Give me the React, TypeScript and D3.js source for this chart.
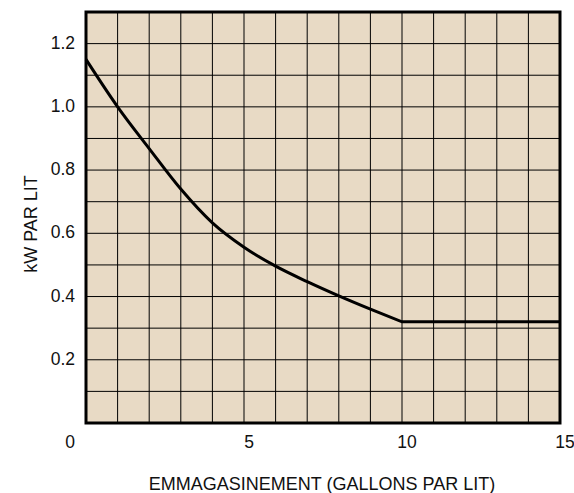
import { useEffect, useRef } from "react";
import * as d3 from "d3";

// stockage (gallons par lit) vs kW par lit
const storage = [0, 1, 2, 3, 4, 5, 6, 7, 8, 9, 10];
const kwPerBed = [1.15, 1.0, 0.868, 0.74, 0.633, 0.556, 0.496, 0.447, 0.402, 0.36, 0.32];
const flatStorage = [10, 15];
const flatKw = [0.32, 0.32];

const xTicks = [5, 10, 15];
const yTicks = [0.2, 0.4, 0.6, 0.8, 1.0, 1.2];
const xTitle = "EMMAGASINEMENT (GALLONS PAR LIT)";
const yTitle = "kW PAR LIT";

const W = 574;
const H = 493;
const margin = { top: 12, right: 14, bottom: 70, left: 86 };

export default function App() {
  const ref = useRef<SVGSVGElement>(null);

  useEffect(() => {
    const svg = d3.select(ref.current);
    svg.selectAll("*").remove();

    const innerW = W - margin.left - margin.right;
    const innerH = H - margin.top - margin.bottom;

    const x = d3.scaleLinear().domain([0, 15]).range([0, innerW]);
    const y = d3.scaleLinear().domain([0, 1.3]).range([innerH, 0]);

    const g = svg
      .append("g")
      .attr("transform", `translate(${margin.left},${margin.top})`);

    g.append("rect")
      .attr("width", innerW)
      .attr("height", innerH)
      .attr("fill", "#e8dac5");

    // grid, one line per unit / per 0.1
    const gx = d3.range(1, 15);
    const gy = d3.range(1, 13).map((d) => d / 10);
    g.selectAll(".vgrid")
      .data(gx)
      .join("line")
      .attr("class", "vgrid")
      .attr("x1", (d) => x(d))
      .attr("x2", (d) => x(d))
      .attr("y1", 0)
      .attr("y2", innerH)
      .attr("stroke", "#000")
      .attr("stroke-width", 1);
    g.selectAll(".hgrid")
      .data(gy)
      .join("line")
      .attr("class", "hgrid")
      .attr("x1", 0)
      .attr("x2", innerW)
      .attr("y1", (d) => y(d))
      .attr("y2", (d) => y(d))
      .attr("stroke", "#000")
      .attr("stroke-width", 1);

    // curve + flat tail (sharp corner at 10)
    const curve = d3
      .line<number>()
      .x((d, i) => x(storage[i]))
      .y((d) => y(d))
      .curve(d3.curveMonotoneX);
    const flat = d3
      .line<number>()
      .x((d, i) => x(flatStorage[i]))
      .y((d) => y(d));

    g.append("path")
      .attr("d", (curve(kwPerBed) || "") + (flat(flatKw) || "").replace(/^M/, "L"))
      .attr("fill", "none")
      .attr("stroke", "#000")
      .attr("stroke-width", 3)
      .attr("stroke-linejoin", "miter");

    g.append("rect")
      .attr("width", innerW)
      .attr("height", innerH)
      .attr("fill", "none")
      .attr("stroke", "#000")
      .attr("stroke-width", 3);

    const font = "'Liberation Sans', Arial, sans-serif";

    g.selectAll(".xt")
      .data(xTicks)
      .join("text")
      .attr("class", "xt")
      .attr("x", (d) => x(d) + 5)
      .attr("y", innerH + 25)
      .attr("text-anchor", "middle")
      .attr("font-family", font)
      .attr("font-size", 17.5)
      .attr("fill", "#111")
      .text((d) => d);

    g.append("text")
      .attr("x", -16)
      .attr("y", innerH + 25)
      .attr("text-anchor", "middle")
      .attr("font-family", font)
      .attr("font-size", 17.5)
      .attr("fill", "#111")
      .text("0");

    g.selectAll(".yt")
      .data(yTicks)
      .join("text")
      .attr("class", "yt")
      .attr("x", -11)
      .attr("y", (d) => y(d) + 5)
      .attr("text-anchor", "end")
      .attr("font-family", font)
      .attr("font-size", 17.5)
      .attr("fill", "#111")
      .text((d) => d.toFixed(1));

    svg
      .append("text")
      .attr("x", 322)
      .attr("y", 490)
      .attr("text-anchor", "middle")
      .attr("font-family", font)
      .attr("font-size", 18)
      .attr("fill", "#111")
      .text(xTitle);

    svg
      .append("text")
      .attr("transform", `translate(37,224) rotate(-90)`)
      .attr("text-anchor", "middle")
      .attr("font-family", font)
      .attr("font-size", 18)
      .attr("fill", "#111")
      .text(yTitle);
  }, []);

  return (
    <svg
      ref={ref}
      width={W}
      height={H}
      style={{ position: "absolute", left: 0, top: 0, background: "#fff" }}
    />
  );
}
